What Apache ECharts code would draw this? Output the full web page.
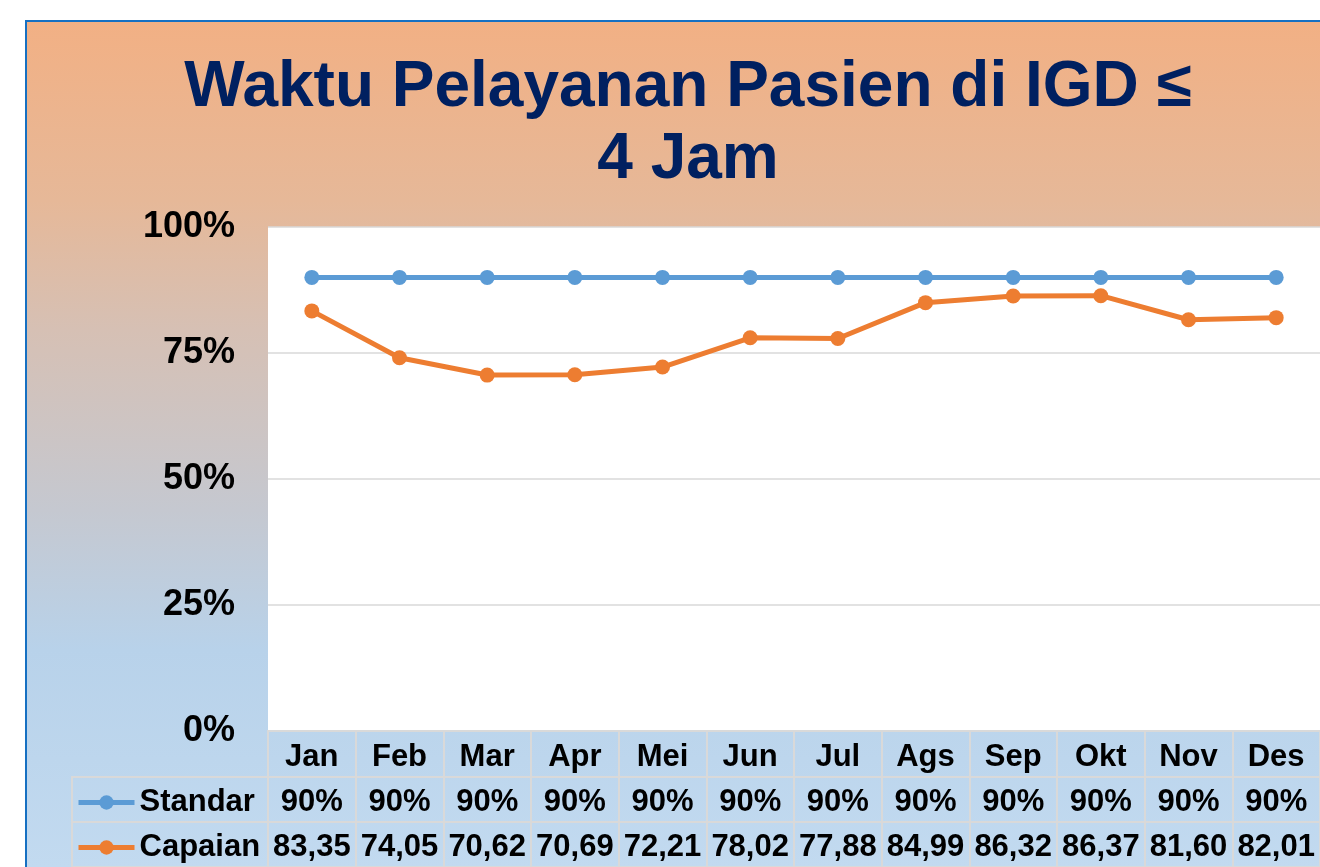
<!DOCTYPE html>
<html>
<head>
<meta charset="utf-8">
<script src="https://cdn.jsdelivr.net/npm/echarts@6/dist/echarts.min.js"></script>
<style>
  html, body { margin: 0; padding: 0; background: #ffffff; }
  #chart { width: 1320px; height: 867px; }
</style>
</head>
<body>
<div id="chart"></div>
<script>
// Monthly ER service-time compliance (percent of patients served within 4 hours)
const months = ['Jan', 'Feb', 'Mar', 'Apr', 'Mei', 'Jun', 'Jul', 'Ags', 'Sep', 'Okt', 'Nov', 'Des'];
const standar = [90, 90, 90, 90, 90, 90, 90, 90, 90, 90, 90, 90];
const capaian = [83.35, 74.05, 70.62, 70.69, 72.21, 78.02, 77.88, 84.99, 86.32, 86.37, 81.60, 82.01];
const yTicks = [0, 25, 50, 75, 100];
const seriesNames = ['Standar', 'Capaian'];
const titleText = 'Waktu Pelayanan Pasien di IGD \u2264\n4 Jam';

// Table row texts derived from the series values
const standarLabels = standar.map(v => v + '%');
const capaianLabels = capaian.map(v => v.toFixed(2).replace('.', ','));

const FONT = '"Liberation Sans", Arial, sans-serif';
const GRID_LINE = '#d9d9d9';
const BLUE = '#5b9bd5';
const ORANGE = '#ed7d31';

const chart = echarts.init(document.getElementById('chart'));

const cellText = { fontSize: 31, fontWeight: 'bold', color: '#000', fontFamily: FONT };

function tableRowAxis(gridIndex, labelOffset, formatter) {
  return {
    type: 'category',
    gridIndex: gridIndex,
    data: months,
    position: 'bottom',
    boundaryGap: true,
    axisLine: { show: false },
    axisTick: { show: false },
    axisLabel: Object.assign({
      interval: 0,
      margin: -labelOffset,
      verticalAlign: 'middle',
      formatter: formatter
    }, cellText),
    splitLine: { show: true, interval: 0, lineStyle: { color: GRID_LINE, width: 2 } }
  };
}

function hiddenValueAxis(gridIndex) {
  return { type: 'value', gridIndex: gridIndex, show: false, min: 0, max: 1 };
}

const tableGrid = {
  show: true, borderColor: GRID_LINE, borderWidth: 2,
  backgroundColor: 'transparent', outerBoundsMode: 'none'
};

const option = {
  animation: false,
  graphic: [
    {
      type: 'rect',
      z: -10,
      silent: true,
      shape: { x: 26, y: 21, width: 1400, height: 900 },
      style: {
        fill: new echarts.graphic.LinearGradient(0, 0, 0, 1, [
          { offset: 0, color: '#f2b084' },
          { offset: 0.2, color: '#e6b898' },
          { offset: 0.343, color: '#d6c0b4' },
          { offset: 0.543, color: '#c5c8d0' },
          { offset: 0.699, color: '#b8d2ea' },
          { offset: 0.94, color: '#c2daf0' },
          { offset: 1, color: '#c6dcf2' }
        ]),
        stroke: '#1670c2',
        lineWidth: 2
      }
    },
    {
      type: 'text',
      z: 10,
      x: 688,
      y: 52,
      style: {
        text: titleText,
        fontSize: 64,
        fontWeight: 'bold',
        fontFamily: FONT,
        fill: '#002060',
        align: 'center',
        verticalAlign: 'top',
        lineHeight: 72
      }
    }
  ],
  legend: {
    orient: 'vertical',
    left: 76,
    top: 780,
    height: 120,
    padding: 0,
    itemGap: 0,
    itemWidth: 56,
    itemHeight: 18,
    data: seriesNames,
    lineStyle: { width: 5 },
    textStyle: Object.assign({ lineHeight: 45 }, cellText)
  },
  grid: [
    // plot area
    { left: 268, right: 0, top: 227, height: 504, show: true, backgroundColor: '#ffffff', borderWidth: 0, outerBoundsMode: 'none' },
    // data table rows: months, Standar, Capaian
    Object.assign({ left: 268, right: 0, top: 731, height: 46 }, tableGrid),
    Object.assign({ left: 268, right: 0, top: 777, height: 45 }, tableGrid),
    Object.assign({ left: 268, right: 0, top: 822, height: 45 }, tableGrid),
    // legend key cells
    Object.assign({ left: 72, width: 196, top: 777, height: 90 }, tableGrid)
  ],
  xAxis: [
    {
      type: 'category',
      gridIndex: 0,
      data: months,
      boundaryGap: true,
      axisLine: { show: false },
      axisTick: { show: false },
      axisLabel: { show: false },
      splitLine: { show: false }
    },
    tableRowAxis(1, 20, (v) => v),
    tableRowAxis(2, 20, (v, i) => standarLabels[i]),
    tableRowAxis(3, 20, (v, i) => capaianLabels[i]),
    { type: 'value', gridIndex: 4, show: false, min: 0, max: 1 }
  ],
  yAxis: [
    {
      type: 'value',
      gridIndex: 0,
      min: yTicks[0],
      max: yTicks[yTicks.length - 1],
      interval: yTicks[1] - yTicks[0],
      axisLine: { show: false },
      axisTick: { show: false },
      axisLabel: {
        formatter: '{value}%',
        margin: 33,
        fontSize: 36,
        fontWeight: 'bold',
        color: '#000',
        fontFamily: FONT
      },
      splitLine: { show: true, lineStyle: { color: GRID_LINE, width: 1.5 } }
    },
    hiddenValueAxis(1),
    hiddenValueAxis(2),
    hiddenValueAxis(3),
    {
      type: 'value',
      gridIndex: 4,
      min: 0,
      max: 2,
      interval: 1,
      axisLine: { show: false },
      axisTick: { show: false },
      axisLabel: { show: false },
      splitLine: { show: true, lineStyle: { color: GRID_LINE, width: 2 } }
    }
  ],
  series: [
    {
      name: seriesNames[0],
      type: 'line',
      xAxisIndex: 0,
      yAxisIndex: 0,
      data: standar,
      symbol: 'circle',
      symbolSize: 15,
      lineStyle: { width: 5, color: BLUE },
      itemStyle: { color: BLUE }
    },
    {
      name: seriesNames[1],
      type: 'line',
      xAxisIndex: 0,
      yAxisIndex: 0,
      data: capaian,
      symbol: 'circle',
      symbolSize: 15,
      lineStyle: { width: 5, color: ORANGE },
      itemStyle: { color: ORANGE }
    }
  ]
};

chart.setOption(option);
</script>
</body>
</html>
